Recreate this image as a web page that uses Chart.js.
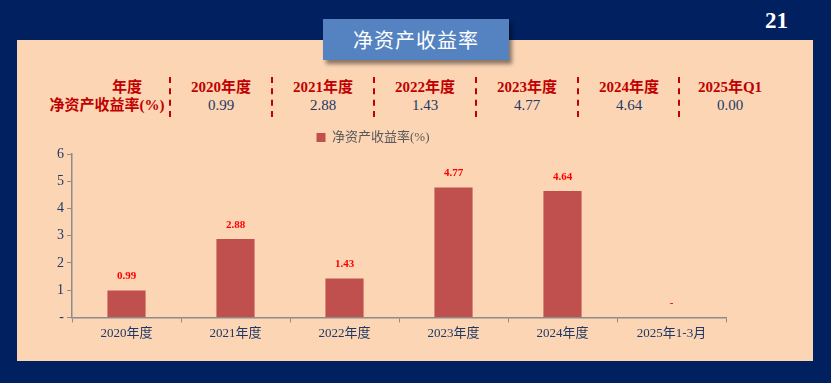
<!DOCTYPE html>
<html>
<head>
<meta charset="utf-8">
<script src="https://cdn.jsdelivr.net/npm/chart.js@4/dist/chart.umd.min.js"></script>
<style>
  html, body { margin: 0; padding: 0; }
  body { width: 831px; height: 383px; background: #002060; position: relative; overflow: hidden;
         font-family: 'Liberation Serif', 'Noto Sans CJK SC', serif; }
  .panel { position: absolute; left: 17px; top: 40px; width: 796px; height: 321px; background: #FCD5B4; }
  .title { position: absolute; left: 323px; top: 19px; width: 186px; height: 41px; background: #5583C1;
           box-shadow: 3px 4px 4px rgba(0,0,0,0.45); color: #fff; font-size: 20px; line-height: 41px;
           text-align: center; font-family: 'Noto Sans CJK SC', sans-serif; letter-spacing: 1px; }
  .page { position: absolute; left: 765px; top: 8px; color: #fff; font-size: 23px; font-weight: bold; }
  .cell { position: absolute; transform: translateX(-50%); font-size: 15px; line-height: 18px; white-space: nowrap; }
  .head { color: #C00000; font-weight: bold; }
  .val { color: #1F3864; }
  .sep { position: absolute; top: 77px; height: 40px; border-left: 2px dashed #C00000; }
  #wrap { position: absolute; left: 20px; top: 129px; width: 790px; height: 215px; }
</style>
</head>
<body>
<div class="panel"></div>
<div class="title">净资产收益率</div>
<div class="page">21</div>
<div id="table"></div>
<div id="wrap"><canvas id="c"></canvas></div>
<script>
// table at the top
const tableYears = ['2020年度', '2021年度', '2022年度', '2023年度', '2024年度', '2025年Q1'];
const tableValues = ['0.99', '2.88', '1.43', '4.77', '4.64', '0.00'];

// chart data
const categories = ['2020年度', '2021年度', '2022年度', '2023年度', '2024年度', '2025年1-3月'];
const roeValues = [0.99, 2.88, 1.43, 4.77, 4.64, 0];
const seriesName = '净资产收益率(%)';

const BAR_COLOR = '#C0504D';
const TEXT_NAVY = '#1F3864';
const AXIS_GRAY = '#8C8C8C';
const FONT = "'Liberation Serif', 'Noto Sans CJK SC', serif";

// build the header table
const table = document.getElementById('table');
function addCell(text, cls, cx, cy) {
  const d = document.createElement('div');
  d.className = 'cell ' + cls;
  d.textContent = text;
  d.style.left = cx + 'px';
  d.style.top = (cy - 9) + 'px';
  table.appendChild(d);
}
addCell('年度', 'head', 127, 87);
addCell('净资产收益率(%)', 'head', 107, 105);
const colX = [221, 323, 425, 527, 629, 730];
const sepX = [170, 272, 374, 476, 578, 679];
tableYears.forEach((y, i) => {
  addCell(y, 'head', colX[i], 87);
  addCell(tableValues[i], 'val', colX[i], 105);
});
sepX.forEach(x => {
  const s = document.createElement('div');
  s.className = 'sep';
  s.style.left = (x - 1) + 'px';
  table.appendChild(s);
});

// value labels above bars
const valueLabels = {
  id: 'valueLabels',
  afterDatasetsDraw(chart) {
    const ctx = chart.ctx;
    const meta = chart.getDatasetMeta(0);
    ctx.save();
    ctx.font = 'bold 11px ' + FONT;
    ctx.fillStyle = '#FF0000';
    ctx.textAlign = 'center';
    ctx.textBaseline = 'middle';
    meta.data.forEach((bar, i) => {
      const v = chart.data.datasets[0].data[i];
      const txt = v === 0 ? '-' : v.toFixed(2);
      ctx.fillText(txt, bar.x, bar.y - 14);
    });
    ctx.restore();
  }
};

new Chart(document.getElementById('c'), {
  type: 'bar',
  data: {
    labels: categories,
    datasets: [{
      label: seriesName,
      data: roeValues,
      backgroundColor: BAR_COLOR,
      categoryPercentage: 1,
      barPercentage: 0.35,
    }],
  },
  options: {
    responsive: true,
    maintainAspectRatio: false,
    animation: false,
    layout: { padding: { left: 0, right: 84, top: 0, bottom: 0 } },
    plugins: {
      legend: {
        position: 'top',
        labels: {
          color: '#595959',
          font: { family: FONT, size: 13 },
          boxWidth: 9,
          boxHeight: 9,
          padding: 2,
        },
      },
      tooltip: { enabled: false },
    },
    scales: {
      x: {
        grid: { drawOnChartArea: false, drawTicks: true, tickLength: 5, color: AXIS_GRAY, offset: true },
        border: { color: AXIS_GRAY, width: 1.5 },
        ticks: { color: TEXT_NAVY, font: { family: FONT, size: 13 }, padding: 3 },
      },
      y: {
        min: 0,
        max: 6,
        afterFit(scale) { scale.width = 52; },
        grid: { drawOnChartArea: false, drawTicks: true, tickLength: 5, color: AXIS_GRAY },
        border: { color: AXIS_GRAY, width: 1.5 },
        ticks: {
          stepSize: 1,
          color: TEXT_NAVY,
          font: { family: FONT, size: 14 },
          padding: 3,
          callback: v => (v === 0 ? '-' : v),
        },
      },
    },
  },
  plugins: [valueLabels],
});
</script>
</body>
</html>
